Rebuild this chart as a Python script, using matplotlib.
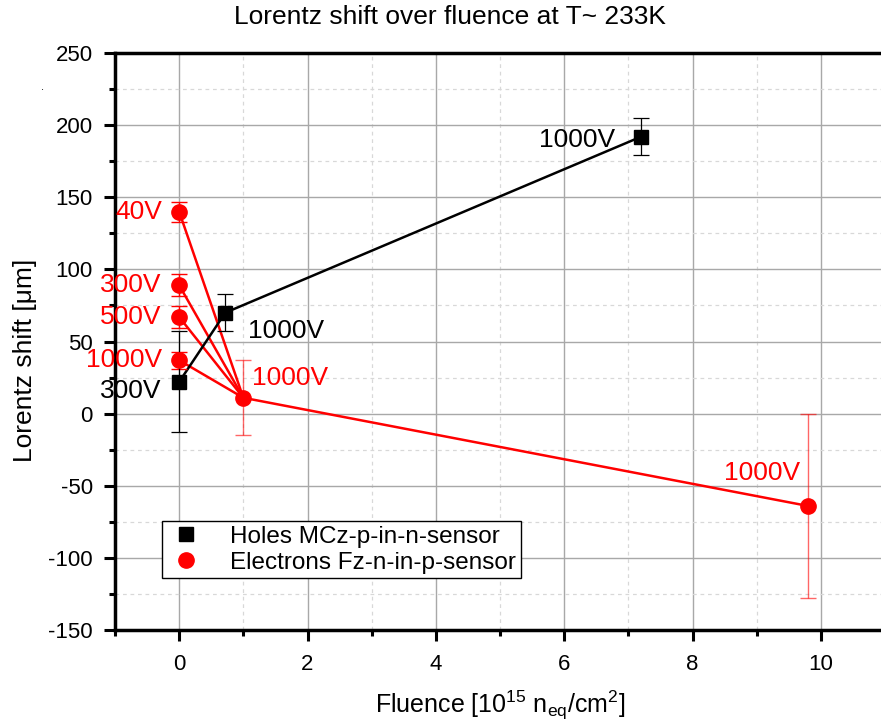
import matplotlib
matplotlib.use("Agg")
import matplotlib.pyplot as plt
from matplotlib.ticker import MultipleLocator

# fluence in 1e15 n_eq/cm^2, shift in um
holes_x = [0.0, 0.72, 7.2]
holes_y = [22, 70, 192]
holes_err = [35, 13, 13]

elec0_y = [140, 89, 67, 37]          # 40V, 300V, 500V, 1000V at zero fluence
elec0_err = [7, 7.5, 7.5, 6]
elec0_labels = ["40V", "300V", "500V", "1000V"]
elec_irr_x = [1.0, 9.8]
elec_irr_y = [11, -64]
elec_irr_err = [26, 64]

plt.rcParams["font.family"] = ["Liberation Sans", "DejaVu Sans"]
plt.rcParams["mathtext.fontset"] = "custom"
plt.rcParams["mathtext.rm"] = "Liberation Sans"
plt.rcParams["axes.unicode_minus"] = False

fig = plt.figure(figsize=(8.81, 7.27), dpi=100)
ax = fig.add_axes([115 / 881, 1 - 630 / 727, 770 / 881, 577 / 727])

red = "#ff0000"

# electrons: each zero-fluence point joined to the irradiated sensor
for y0 in elec0_y:
    ax.plot([0, elec_irr_x[0]], [y0, elec_irr_y[0]], color=red, lw=1.8, zorder=3)
ax.plot(elec_irr_x, elec_irr_y, color=red, lw=1.8, zorder=3)
ax.errorbar([0] * len(elec0_y), elec0_y, yerr=elec0_err, fmt="none",
            ecolor=red, elinewidth=1, capsize=6, capthick=1, zorder=4)
ax.errorbar(elec_irr_x, elec_irr_y, yerr=elec_irr_err, fmt="none",
            ecolor=red, elinewidth=1, capsize=6, capthick=1, alpha=0.6, zorder=4)
ax.plot([0] * len(elec0_y) + elec_irr_x, elec0_y + elec_irr_y, "o",
        color=red, ms=11, zorder=5, label="Electrons Fz-n-in-p-sensor")

# holes
ax.plot(holes_x, holes_y, color="black", lw=1.8, zorder=3)
ax.errorbar(holes_x, holes_y, yerr=holes_err, fmt="none", ecolor="black",
            elinewidth=0.9, capsize=6, capthick=0.9, zorder=4)
ax.plot(holes_x, holes_y, "s", color="black", ms=10, zorder=6,
        label="Holes MCz-p-in-n-sensor")

# voltage annotations
fs = 19
for txt, ty in zip(elec0_labels, elec0_y):
    ax.text(-0.27, ty, txt, color=red, fontsize=fs, ha="right", va="center")
ax.text(1.13, 25, "1000V", color=red, fontsize=fs, ha="left", va="center")
ax.text(9.67, -41, "1000V", color=red, fontsize=fs, ha="right", va="center")
ax.text(-0.27, 16, "300V", color="black", fontsize=fs, ha="right", va="center")
ax.text(1.07, 57, "1000V", color="black", fontsize=fs, ha="left", va="center")
ax.text(6.79, 190, "1000V", color="black", fontsize=fs, ha="right", va="center")

ax.set_xlim(-1, 11)
ax.set_ylim(-150, 250)
ax.xaxis.set_major_locator(MultipleLocator(2))
ax.xaxis.set_minor_locator(MultipleLocator(1))
ax.yaxis.set_major_locator(MultipleLocator(50))
ax.yaxis.set_minor_locator(MultipleLocator(25))

ax.grid(which="major", color="#a8a8a8", lw=1, ls="-", zorder=0)
ax.grid(which="minor", color="#d8d8d8", lw=0.9, ls=(0, (3, 3)), zorder=0)
ax.set_axisbelow(True)

for side in ["left", "bottom", "top", "right"]:
    ax.spines[side].set_linewidth(2.5)
ax.tick_params(which="both", direction="out", width=2.2, labelsize=16,
               top=False, right=False)
ax.tick_params(which="major", length=8)
ax.tick_params(which="minor", length=4)
ax.tick_params(axis="y", pad=8)
ax.tick_params(axis="x", pad=9)

ax.set_xlabel(r"Fluence [10$^{15}$ n$_{\mathrm{eq}}$/cm$^{2}$]", fontsize=18, va="top")
ax.xaxis.set_label_coords((500 - 115) / 770, (630 - 689) / 577)
ax.set_ylabel("Lorentz shift [μm]", fontsize=19, va="center")
ax.yaxis.set_label_coords((25 - 115) / 770, (630 - 360) / 577)
fig.text(450 / 881, 1 - 17 / 727, "Lorentz shift over fluence at T~ 233K",
         ha="center", va="center", fontsize=19)
fig.text(42 / 881, 1 - 87 / 727, ".", fontsize=8, ha="center", va="center")

handles, labels = ax.get_legend_handles_labels()
order = [labels.index("Holes MCz-p-in-n-sensor"), labels.index("Electrons Fz-n-in-p-sensor")]
leg = ax.legend([handles[i] for i in order], [labels[i] for i in order],
                loc="upper left", bbox_to_anchor=((162 - 115) / 770, (630 - 521) / 577),
                borderaxespad=0, fontsize=17.5, frameon=True, fancybox=False,
                edgecolor="black", borderpad=0.2, handletextpad=1.0,
                labelspacing=0.15, handlelength=1.6)
leg.get_frame().set_linewidth(1)
leg.get_frame().set_alpha(1)

fig.savefig("out.png", dpi=100, facecolor="white")
